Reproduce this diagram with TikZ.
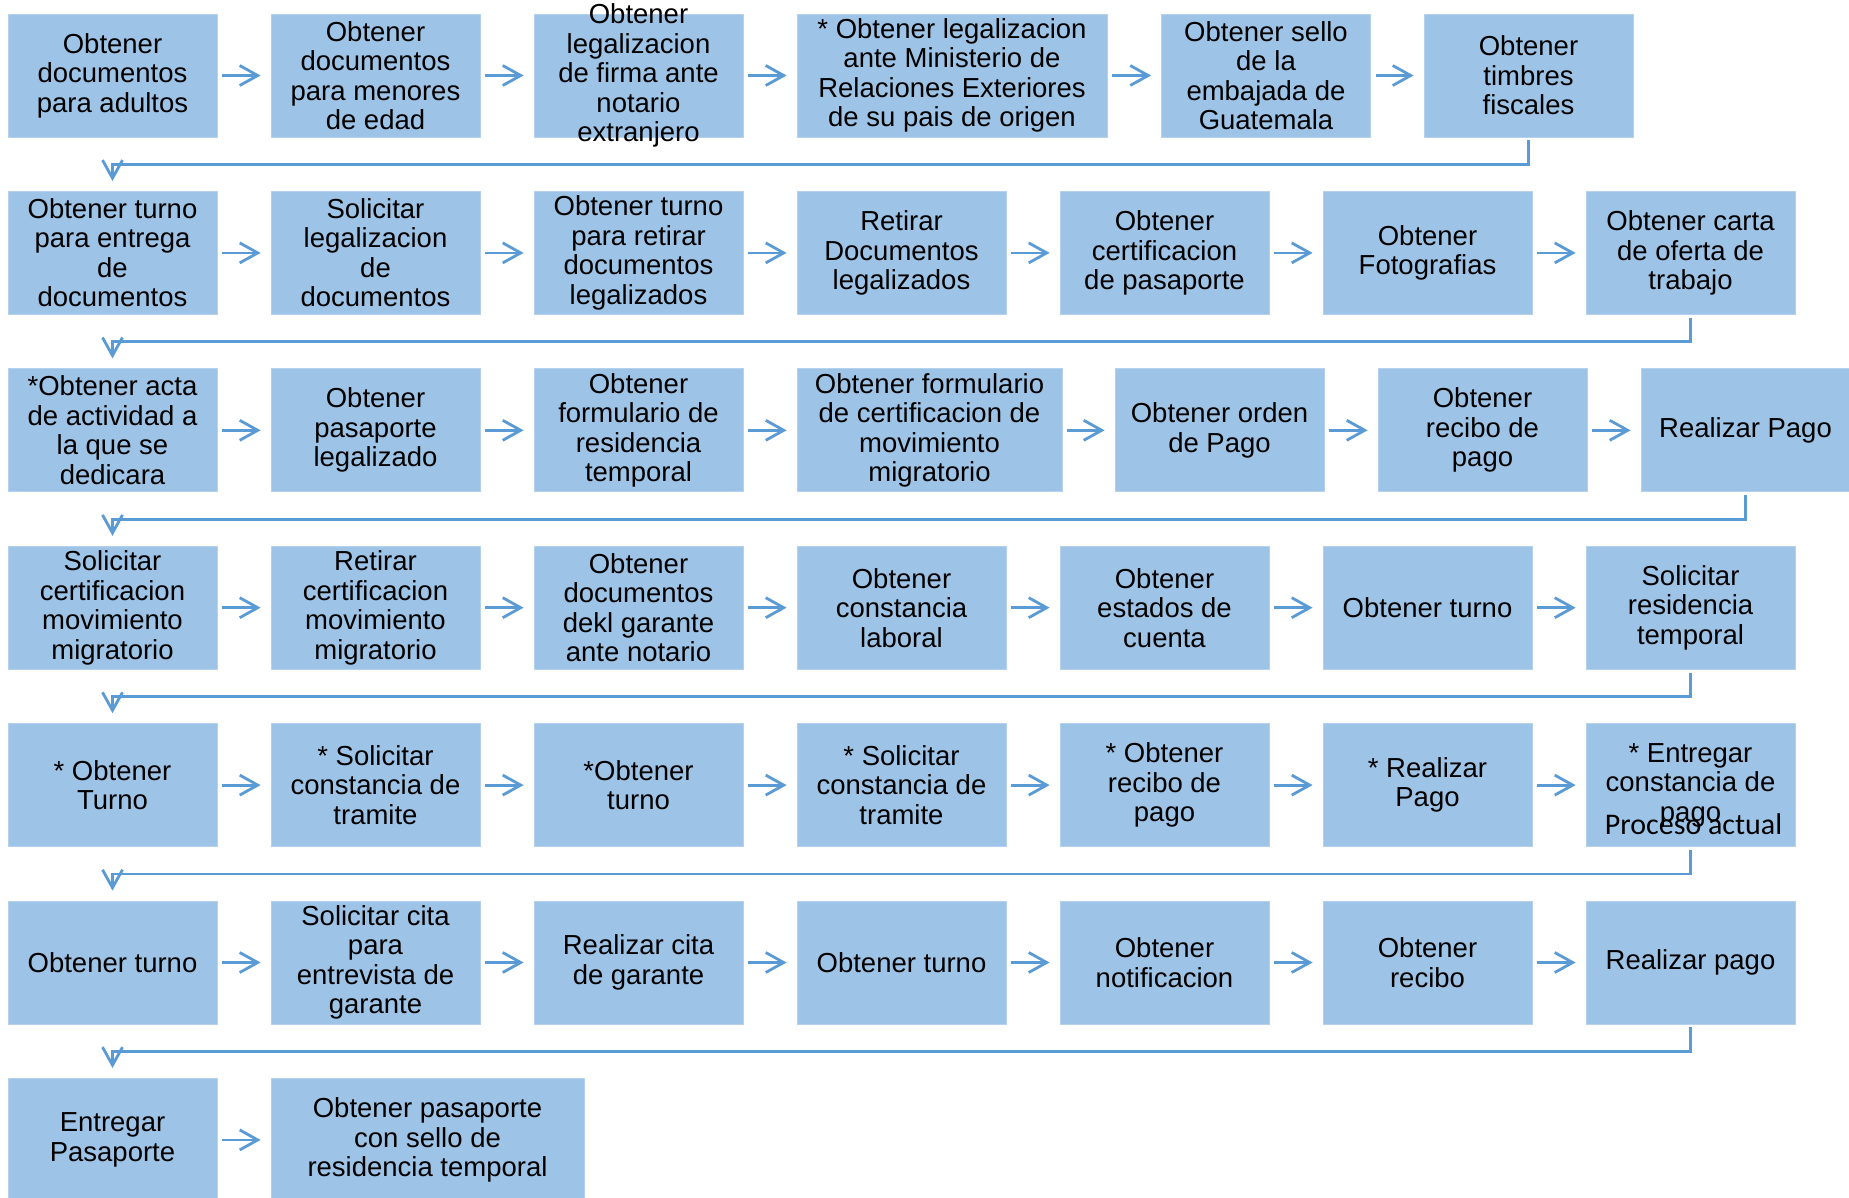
\documentclass[tikz,border=0pt]{standalone}
\usepackage{fontspec}
\setmainfont{Liberation Sans}
\newfontfamily\carlitofont{Carlito}
\usetikzlibrary{arrows.meta,calc}
\definecolor{boxfill}{HTML}{9DC3E6}
\definecolor{boxedge}{HTML}{B4D2EE}
\definecolor{linecol}{HTML}{5B9BD5}
\begin{document}
\begin{tikzpicture}[x=1pt,y=-1pt,
  box/.style={rectangle, fill=boxfill, draw=boxedge, line width=0.8pt,
    minimum width=209pt, minimum height=123pt, inner sep=0pt,
    align=center, font=\fontsize{27.5}{29.5}\selectfont},
  txt/.style={inner sep=0pt, align=center, font=\fontsize{27.5}{29.5}\selectfont},
  note/.style={inner sep=0pt, font=\carlitofont\fontsize{30}{32}\selectfont},
  flow/.style={draw=linecol, line width=2.8pt, shorten <=5pt, shorten >=10pt,
    -{Straight Barb[length=18pt,width=20pt]}},
  conn/.style={draw=linecol, line width=2.8pt, shorten <=3pt, shorten >=10pt,
    -{Straight Barb[length=18pt,width=20pt]}}]
\path[use as bounding box, clip] (0,0) rectangle (1849,1197);
\fill[white] (0,0) rectangle (1849,1197);

% Row 1
\node[box] (r1c1) at (112.5,75.5) {Obtener\\documentos\\para adultos};
\node[box] (r1c2) at (375.5,75.5) {Obtener\\documentos\\para menores\\de edad};
\node[box] (r1c3) at (638.5,75.5) {};
\node[txt] (r1c3t) at (r1c3.center) {Obtener\\legalizacion\\de firma ante\\notario\\extranjero};
\node[box, minimum width=310pt] (r1c4) at (952,75.5) {* Obtener legalizacion\\ante Ministerio de\\Relaciones Exteriores\\de su pais de origen};
\node[box] (r1c5) at (1266,75.5) {Obtener sello\\de la\\embajada de\\Guatemala};
\node[box] (r1c6) at (1528.5,75.5) {Obtener\\timbres\\fiscales};

% Row 2
\node[box] (r2c1) at (112.5,252.9) {Obtener turno\\para entrega\\de\\documentos};
\node[box] (r2c2) at (375.5,252.9) {Solicitar\\legalizacion\\de\\documentos};
\node[box] (r2c3) at (638.5,252.9) {Obtener turno\\para retirar\\documentos\\legalizados};
\node[box] (r2c4) at (901.5,252.9) {Retirar\\Documentos\\legalizados};
\node[box] (r2c5) at (1164.5,252.9) {Obtener\\certificacion\\de pasaporte};
\node[box] (r2c6) at (1427.5,252.9) {Obtener\\Fotografias};
\node[box] (r2c7) at (1690.5,252.9) {Obtener carta\\de oferta de\\trabajo};

% Row 3
\node[box] (r3c1) at (112.5,430.3) {*Obtener acta\\de actividad a\\la que se\\dedicara};
\node[box] (r3c2) at (375.5,430.3) {Obtener\\pasaporte\\legalizado};
\node[box] (r3c3) at (638.5,430.3) {Obtener\\formulario de\\residencia\\temporal};
\node[box, minimum width=265pt] (r3c4) at (929.5,430.3) {Obtener formulario\\de certificacion de\\movimiento\\migratorio};
\node[box] (r3c5) at (1219.5,430.3) {Obtener orden\\de Pago};
\node[box] (r3c6) at (1482.5,430.3) {Obtener\\recibo de\\pago};
\node[box] (r3c7) at (1745.5,430.3) {Realizar Pago};

% Row 4
\node[box] (r4c1) at (112.5,607.7) {Solicitar\\certificacion\\movimiento\\migratorio};
\node[box] (r4c2) at (375.5,607.7) {Retirar\\certificacion\\movimiento\\migratorio};
\node[box] (r4c3) at (638.5,607.7) {Obtener\\documentos\\dekl garante\\ante notario};
\node[box] (r4c4) at (901.5,607.7) {Obtener\\constancia\\laboral};
\node[box] (r4c5) at (1164.5,607.7) {Obtener\\estados de\\cuenta};
\node[box] (r4c6) at (1427.5,607.7) {Obtener turno};
\node[box] (r4c7) at (1690.5,607.7) {Solicitar\\residencia\\temporal};

% Row 5
\node[box] (r5c1) at (112.5,785.1) {* Obtener\\Turno};
\node[box] (r5c2) at (375.5,785.1) {* Solicitar\\constancia de\\tramite};
\node[box] (r5c3) at (638.5,785.1) {*Obtener\\turno};
\node[box] (r5c4) at (901.5,785.1) {* Solicitar\\constancia de\\tramite};
\node[box] (r5c5) at (1164.5,785.1) {* Obtener\\recibo de\\pago};
\node[box] (r5c6) at (1427.5,785.1) {* Realizar\\Pago};
\node[box] (r5c7) at (1690.5,785.1) {* Entregar\\constancia de\\pago};
\node[note] (r5note) at ($(r5c7.center)+(3,39)$) {Proceso actual};

% Row 6
\node[box] (r6c1) at (112.5,962.5) {Obtener turno};
\node[box] (r6c2) at (375.5,962.5) {Solicitar cita\\para\\entrevista de\\garante};
\node[box] (r6c3) at (638.5,962.5) {Realizar cita\\de garante};
\node[box] (r6c4) at (901.5,962.5) {Obtener turno};
\node[box] (r6c5) at (1164.5,962.5) {Obtener\\notificacion};
\node[box] (r6c6) at (1427.5,962.5) {Obtener\\recibo};
\node[box] (r6c7) at (1690.5,962.5) {Realizar pago};

% Row 7
\node[box] (r7c1) at (112.5,1139.9) {Entregar\\Pasaporte};
\node[box, minimum width=313pt] (r7c2) at (427.5,1139.9) {Obtener pasaporte\\con sello de\\residencia temporal};

% Horizontal arrows
\foreach \r/\n in {1/6,2/7,3/7,4/7,5/7,6/7,7/2}{
  \foreach \c [remember=\c as \p (initially 1)] in {2,...,\n}{
    \draw[flow] (r\r c\p) -- (r\r c\c);
  }
}

% Row-to-row connectors
\draw[conn] (r1c6.south) -- ++(0,27) -| (r2c1.north);
\draw[conn] (r2c7.south) -- ++(0,27) -| (r3c1.north);
\draw[conn] (r3c7.south) -- ++(0,27) -| (r4c1.north);
\draw[conn] (r4c7.south) -- ++(0,27) -| (r5c1.north);
\draw[conn] (r5c7.south) -- ++(0,27) -| (r6c1.north);
\draw[conn] (r6c7.south) -- ++(0,27) -| (r7c1.north);
\end{tikzpicture}
\end{document}
